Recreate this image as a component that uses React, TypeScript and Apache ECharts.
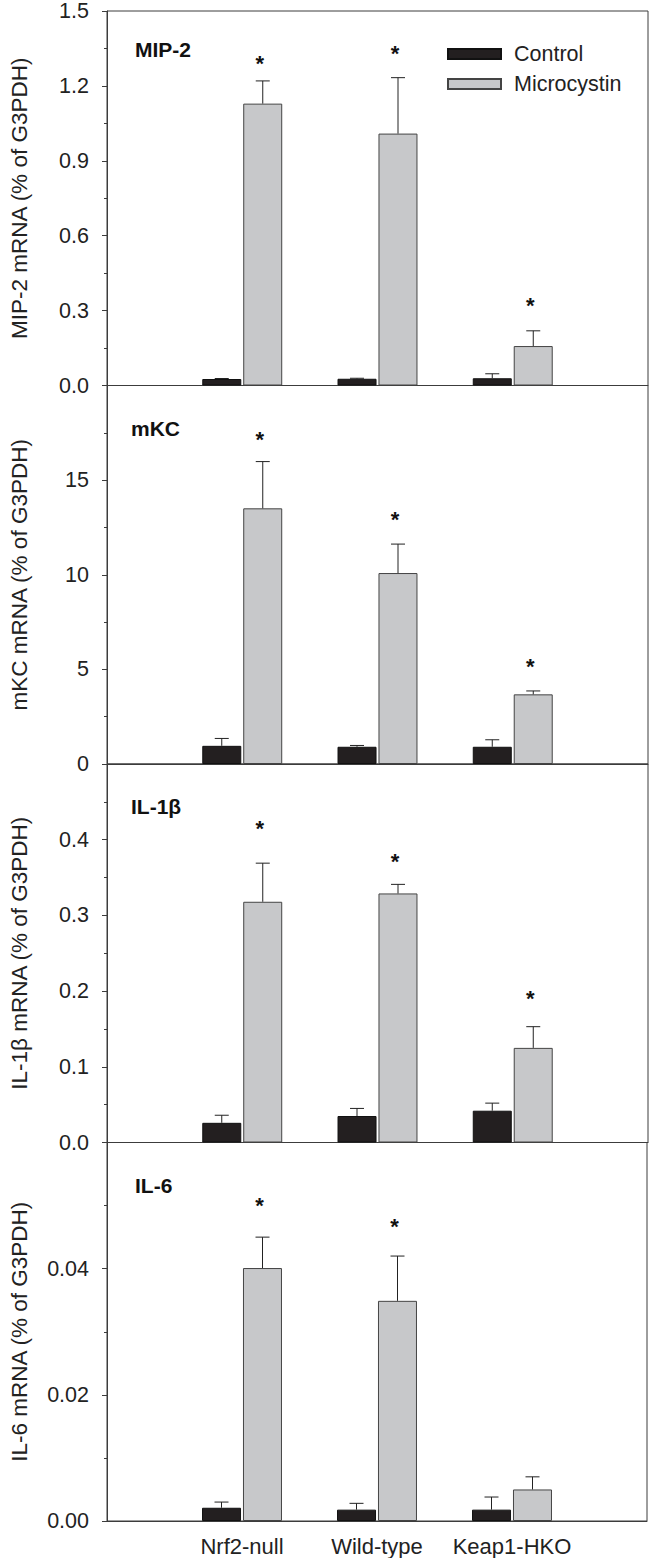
import React, { useEffect, useRef } from "react";
import * as echarts from "echarts";

// ---- data ----
const categories = ["", "Nrf2-null", "Wild-type", "Keap1-HKO", ""];
const panelLabels = ["MIP-2", "mKC", "IL-1β", "IL-6"];
const yTitles = [
  "MIP-2 mRNA (% of G3PDH)",
  "mKC mRNA (% of G3PDH)",
  "IL-1β mRNA (% of G3PDH)",
  "IL-6 mRNA (% of G3PDH)",
];
const yMax = [1.5, 20, 0.5, 0.06];
const yInterval = [0.3, 5, 0.1, 0.02];
const yDecimals = [1, 0, 1, 2];

// MIP-2
const mip2Control = [0.026, 0.027, 0.029];
const mip2ControlSem = [0.002, 0.002, 0.018];
const mip2Micro = [1.129, 1.009, 0.158];
const mip2MicroSem = [0.091, 0.224, 0.061];
const mip2Stars = [1.303, 1.343, 0.333];
// mKC
const mkcControl = [0.96, 0.91, 0.91];
const mkcControlSem = [0.39, 0.07, 0.37];
const mkcMicro = [13.51, 10.09, 3.68];
const mkcMicroSem = [2.47, 1.53, 0.18];
const mkcStars = [17.3, 13.1, 5.33];
// IL-1β
const il1bControl = [0.026, 0.035, 0.042];
const il1bControlSem = [0.01, 0.01, 0.01];
const il1bMicro = [0.318, 0.329, 0.125];
const il1bMicroSem = [0.051, 0.012, 0.028];
const il1bStars = [0.419, 0.375, 0.194];
// IL-6
const il6Control = [0.0021, 0.0018, 0.0018];
const il6ControlSem = [0.0009, 0.001, 0.002];
const il6Micro = [0.0401, 0.0349, 0.005];
const il6MicroSem = [0.0049, 0.0071, 0.002];
const il6Stars = [0.0505, 0.0471, null];

const controls = [mip2Control, mkcControl, il1bControl, il6Control];
const controlSems = [mip2ControlSem, mkcControlSem, il1bControlSem, il6ControlSem];
const micros = [mip2Micro, mkcMicro, il1bMicro, il6Micro];
const microSems = [mip2MicroSem, mkcMicroSem, il1bMicroSem, il6MicroSem];
const stars = [mip2Stars, mkcStars, il1bStars, il6Stars];

// ---- layout ----
const GRID_LEFT = 102;
const GRID_RIGHT = 2;
const GRID_TOP0 = 7;
const GRID_H = 378.5;
const BAR_W = 39;
const BAR_GAP = 2;
const OFFSET = (BAR_W + BAR_GAP) / 2;
const FONT = "Arial, 'Liberation Sans', Helvetica, sans-serif";
const INK = "#222";
const AXIS = "#3c3c3c";

function pad(arr: (number | null)[]) {
  return [null, ...arr, null];
}

function buildOption() {
  const grid: any[] = [];
  const xAxis: any[] = [];
  const yAxis: any[] = [];
  const series: any[] = [];
  const title: any[] = [];

  for (let i = 0; i < 4; i++) {
    const top = GRID_TOP0 + i * GRID_H;
    grid.push({
      left: GRID_LEFT,
      right: GRID_RIGHT,
      top,
      height: GRID_H,
      show: true,
      borderColor: AXIS,
      borderWidth: 1,
    });
    xAxis.push({
      type: "category",
      gridIndex: i,
      data: categories,
      boundaryGap: false,
      axisLine: { show: true, lineStyle: { color: AXIS, width: 1 } },
      axisTick: { show: false },
      axisLabel: {
        show: i === 3,
        interval: 0,
        fontSize: 22,
        fontFamily: FONT,
        color: INK,
        margin: 14,
      },
    });
    const max = yMax[i];
    const dec = yDecimals[i];
    yAxis.push({
      type: "value",
      gridIndex: i,
      min: 0,
      max,
      interval: yInterval[i],
      name: yTitles[i],
      nameLocation: "middle",
      nameGap: 76,
      nameTextStyle: { fontSize: 22.5, fontFamily: FONT, color: INK },
      axisLine: { show: true, lineStyle: { color: AXIS, width: 1 } },
      axisTick: { show: true, length: 5, lineStyle: { color: AXIS } },
      minorTick: { show: true, splitNumber: 2, length: 3, lineStyle: { color: AXIS } },
      splitLine: { show: false },
      axisLabel: {
        fontSize: 21.5,
        fontFamily: FONT,
        color: INK,
        margin: 18,
        showMaxLabel: i === 0,
        formatter: (v: number) =>
          i !== 0 && v > max - 1e-9 ? "" : v.toFixed(dec),
      },
    });
    title.push({
      text: panelLabels[i],
      left: i === 0 || i === 3 ? 135 : 131,
      top: top + 32,
      padding: 0,
      textStyle: { fontSize: 21, fontWeight: "bold", fontFamily: FONT, color: "#111" },
    });

    series.push({
      name: "Control",
      type: "bar",
      xAxisIndex: i,
      yAxisIndex: i,
      data: pad(controls[i]),
      barWidth: BAR_W,
      barGap: "5%",
      itemStyle: { color: "#231f20", borderColor: "#111", borderWidth: 1 },
    });
    series.push({
      name: "Microcystin",
      type: "bar",
      xAxisIndex: i,
      yAxisIndex: i,
      data: pad(micros[i]),
      barWidth: BAR_W,
      barGap: "5%",
      itemStyle: { color: "#c7c8ca", borderColor: "#444", borderWidth: 1 },
    });

    const errData: any[] = [];
    controls[i].forEach((m, k) => errData.push([k + 1, m, controlSems[i][k], 0]));
    micros[i].forEach((m, k) => errData.push([k + 1, m, microSems[i][k], 1]));
    series.push({
      type: "custom",
      xAxisIndex: i,
      yAxisIndex: i,
      z: 5,
      silent: true,
      encode: { x: 0, y: 1 },
      data: errData,
      renderItem: (params: any, api: any) => {
        const cat = api.value(0);
        const mean = api.value(1);
        const sem = api.value(2);
        const side = api.value(3);
        const base = api.coord([cat, mean]);
        const tp = api.coord([cat, mean + sem]);
        const x = base[0] + (side === 0 ? -OFFSET : OFFSET);
        const st = { stroke: "#222", lineWidth: 1 };
        return {
          type: "group",
          children: [
            { type: "line", shape: { x1: x, y1: base[1], x2: x, y2: tp[1] }, style: st },
            { type: "line", shape: { x1: x - 7, y1: tp[1], x2: x + 7, y2: tp[1] }, style: st },
          ],
        };
      },
    });

    const starData: any[] = [];
    stars[i].forEach((s, k) => {
      if (s !== null) starData.push([k + 1, s]);
    });
    series.push({
      type: "custom",
      xAxisIndex: i,
      yAxisIndex: i,
      z: 6,
      silent: true,
      encode: { x: 0, y: 1 },
      data: starData,
      renderItem: (params: any, api: any) => {
        const p = api.coord([api.value(0), api.value(1)]);
        return {
          type: "text",
          x: p[0] + OFFSET - 3,
          y: p[1] + 3,
          style: {
            text: "*",
            fontSize: 22,
            fontWeight: "bold",
            fontFamily: FONT,
            fill: "#111",
            align: "center",
            verticalAlign: "middle",
          },
        };
      },
    });
  }

  return {
    animation: false,
    backgroundColor: "#ffffff",
    title,
    legend: {
      data: ["Control", "Microcystin"],
      orient: "vertical",
      left: 442,
      top: 38,
      itemWidth: 53,
      itemHeight: 10,
      itemGap: 8,
      icon: "rect",
      textStyle: { fontSize: 21.5, fontFamily: FONT, color: INK, padding: [0, 0, 0, 8] },
    },
    grid,
    xAxis,
    yAxis,
    series,
  };
}

export default function App() {
  const ref = useRef<HTMLDivElement>(null);
  useEffect(() => {
    if (!ref.current) return;
    const chart = echarts.init(ref.current, undefined, { renderer: "svg" });
    chart.setOption(buildOption() as any);
    return () => chart.dispose();
  }, []);
  return (
    <div
      ref={ref}
      style={{ position: "absolute", left: 0, top: 0, width: 650, height: 1558, background: "#fff" }}
    />
  );
}
